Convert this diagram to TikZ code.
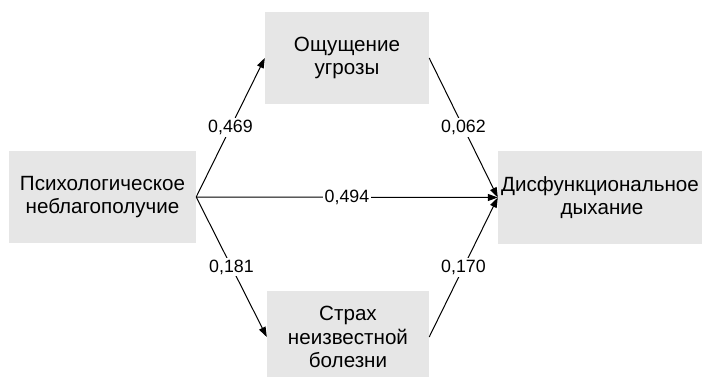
\documentclass[tikz,border=0pt]{standalone}
\usepackage{fontspec}
\setmainfont{Liberation Sans}
\usetikzlibrary{arrows.meta}
\definecolor{boxgrey}{HTML}{E6E6E6}
\tikzset{
  factor/.style={fill=boxgrey, draw=none, align=center, inner sep=0pt,
    font=\fontsize{20.6}{23.5}\selectfont},
  path/.style={line width=1pt, -{Triangle[length=10pt,width=7pt]}},
  coef/.style={fill=white, inner sep=2pt, font=\fontsize{17.8}{20}\selectfont}
}
\begin{document}
\begin{tikzpicture}[x=1pt,y=-1pt]
\useasboundingbox (0,0) rectangle (702,377);
\begin{scope}
\clip (0,0) rectangle (702,377);
\node[factor, minimum width=187, minimum height=92] (psy) at (102.5,197) {Психологическое\\неблагополучие};
\node[factor, minimum width=164, minimum height=92] (thr) at (347,58) {Ощущение\\угрозы};
\node[factor, minimum width=162, minimum height=92] (fear) at (348,337) {Страх\\неизвестной\\болезни};
\node[factor, minimum width=208, minimum height=93] (dys) at (602,197.5) {\hspace*{-4pt}Дисфункциональное\\дыхание};
\end{scope}
\draw[path] (psy.east) -- node[coef] {0,469} (thr.west);
\draw[path] (psy.east) -- node[coef] {0,181} (fear.west);
\draw[path] (psy.east) -- node[coef] {0,494} (dys.west);
\draw[path] (thr.east) -- node[coef] {0,062} (dys.west);
\draw[path] (fear.east) -- node[coef] {0,170} (dys.west);
\end{tikzpicture}
\end{document}
